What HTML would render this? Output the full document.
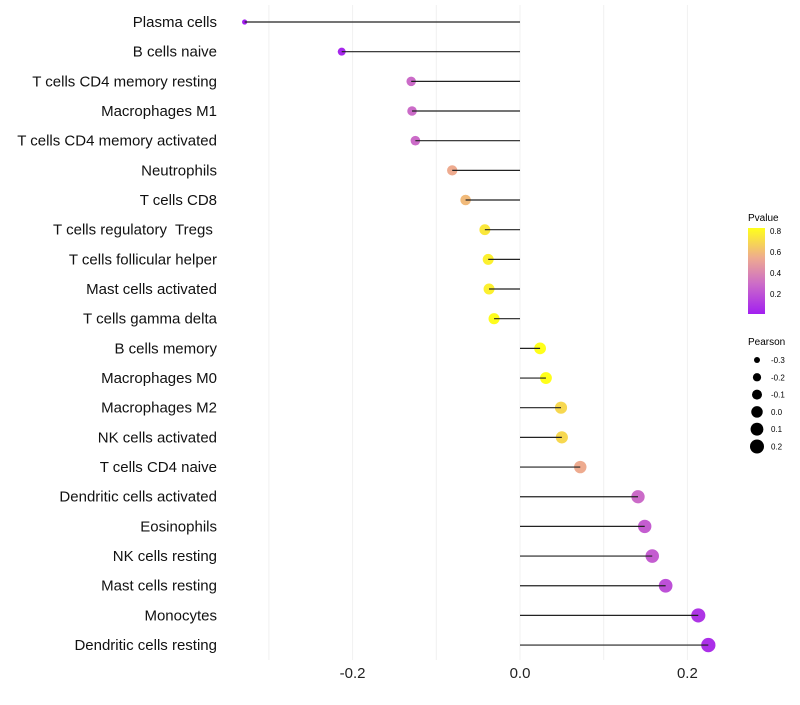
<!DOCTYPE html>
<html><head><meta charset="utf-8"><style>
body{margin:0;background:#fff;font-family:"Liberation Sans",sans-serif}
svg text{font-family:"Liberation Sans",sans-serif}
</style></head><body>
<svg id="c" width="800" height="700">
<defs><linearGradient id="pg" x1="0" y1="1" x2="0" y2="0">
<stop offset="0" stop-color="#a21ff0"/><stop offset="0.35" stop-color="#cc6cc8"/><stop offset="0.65" stop-color="#eeaa90"/><stop offset="1" stop-color="#ffff1a"/></linearGradient></defs>
<g id="grid"></g><g id="marks"></g><g id="labels"></g>
<g>
<text x="748" y="221" font-size="10">Pvalue</text>
<rect x="748" y="228" width="17" height="86" fill="url(#pg)"/>
<g id="cbt" font-size="8"></g>
</g>
<g>
<text x="748" y="345" font-size="10">Pearson</text>
<g id="sz" font-size="8"></g>
</g>
</svg>
<script>
const categories=["Plasma cells","B cells naive","T cells CD4 memory resting","Macrophages M1","T cells CD4 memory activated","Neutrophils","T cells CD8","T cells regulatory  Tregs\u00a0","T cells follicular helper","Mast cells activated","T cells gamma delta","B cells memory","Macrophages M0","Macrophages M2","NK cells activated","T cells CD4 naive","Dendritic cells activated","Eosinophils","NK cells resting","Mast cells resting","Monocytes","Dendritic cells resting"];
const pearson=[-0.329,-0.213,-0.130,-0.129,-0.125,-0.081,-0.065,-0.042,-0.038,-0.037,-0.031,0.024,0.031,0.049,0.050,0.072,0.141,0.149,0.158,0.174,0.213,0.225];
const pvalue=[0.01,0.05,0.3,0.3,0.3,0.55,0.6,0.75,0.78,0.78,0.82,0.9,0.87,0.7,0.7,0.55,0.3,0.25,0.25,0.2,0.1,0.08];
const xTicks=[-0.2,0,0.2];
const gridTicks=[-0.3,-0.2,-0.1,0,0.1,0.2];
const pTicks=[0.2,0.4,0.6,0.8];
const sizeTicks=[-0.3,-0.2,-0.1,0.0,0.1,0.2];
const NS="http://www.w3.org/2000/svg";
const X=v=>520+v*837;
const Y=i=>22+i*29.67;
const R=v=>Math.sqrt(Math.max(33+80*v,2));
function col(p){const t=Math.min(Math.max((p-0.02)/0.81,0),1);
 const st=[[0,[162,31,240]],[0.35,[204,108,200]],[0.65,[238,170,144]],[1,[255,255,26]]];
 for(let k=1;k<st.length;k++){if(t<=st[k][0]){const a=st[k-1],b=st[k],f=(t-a[0])/(b[0]-a[0]);
 return `rgb(${a[1].map((c,j)=>Math.round(c+(b[1][j]-c)*f)).join(",")})`;}}return "rgb(255,255,26)";}
function el(t,a,p){const e=document.createElementNS(NS,t);for(const k in a)e.setAttribute(k,a[k]);p.appendChild(e);return e;}
const grid=document.getElementById("grid"),marks=document.getElementById("marks"),labels=document.getElementById("labels");
gridTicks.forEach(v=>{const l=el("line",{x1:X(v),x2:X(v),y1:5,y2:660,stroke:"#f0f0f0","stroke-width":1},grid);

});
xTicks.forEach(v=>{const t=el("text",{x:X(v),y:678,"font-size":15,"text-anchor":"middle",fill:"#222"},labels);t.textContent=v===0?"0.0":v.toFixed(1);

});
categories.forEach((c,i)=>{
 const t=el("text",{x:217,y:Y(i)+5,"font-size":15,"text-anchor":"end",fill:"#111","xml:space":"preserve"},labels);t.style.whiteSpace="pre";t.textContent=c;
 
 
 const pt=el("circle",{cx:X(pearson[i]),cy:Y(i),r:R(pearson[i]),fill:col(pvalue[i])},marks);
 
 
 const ln=el("line",{x1:X(0),x2:X(pearson[i]),y1:Y(i),y2:Y(i),stroke:"#222","stroke-width":1.2},marks);
 
 
});
const cbt=document.getElementById("cbt");
pTicks.forEach(p=>{const y=313-(p-0.02)/0.81*85;
 const t=el("text",{x:770,y:y+3},cbt);t.textContent=p.toFixed(1);
 
 });
const sz=document.getElementById("sz");
sizeTicks.forEach((v,i)=>{const y=360+i*17.3;
 const c=el("circle",{cx:757,cy:y,r:R(v),fill:"#000"},sz);
 
 
 const t=el("text",{x:771,y:y+3},sz);t.textContent=v.toFixed(1);
 
 });
</script>
</body></html>
